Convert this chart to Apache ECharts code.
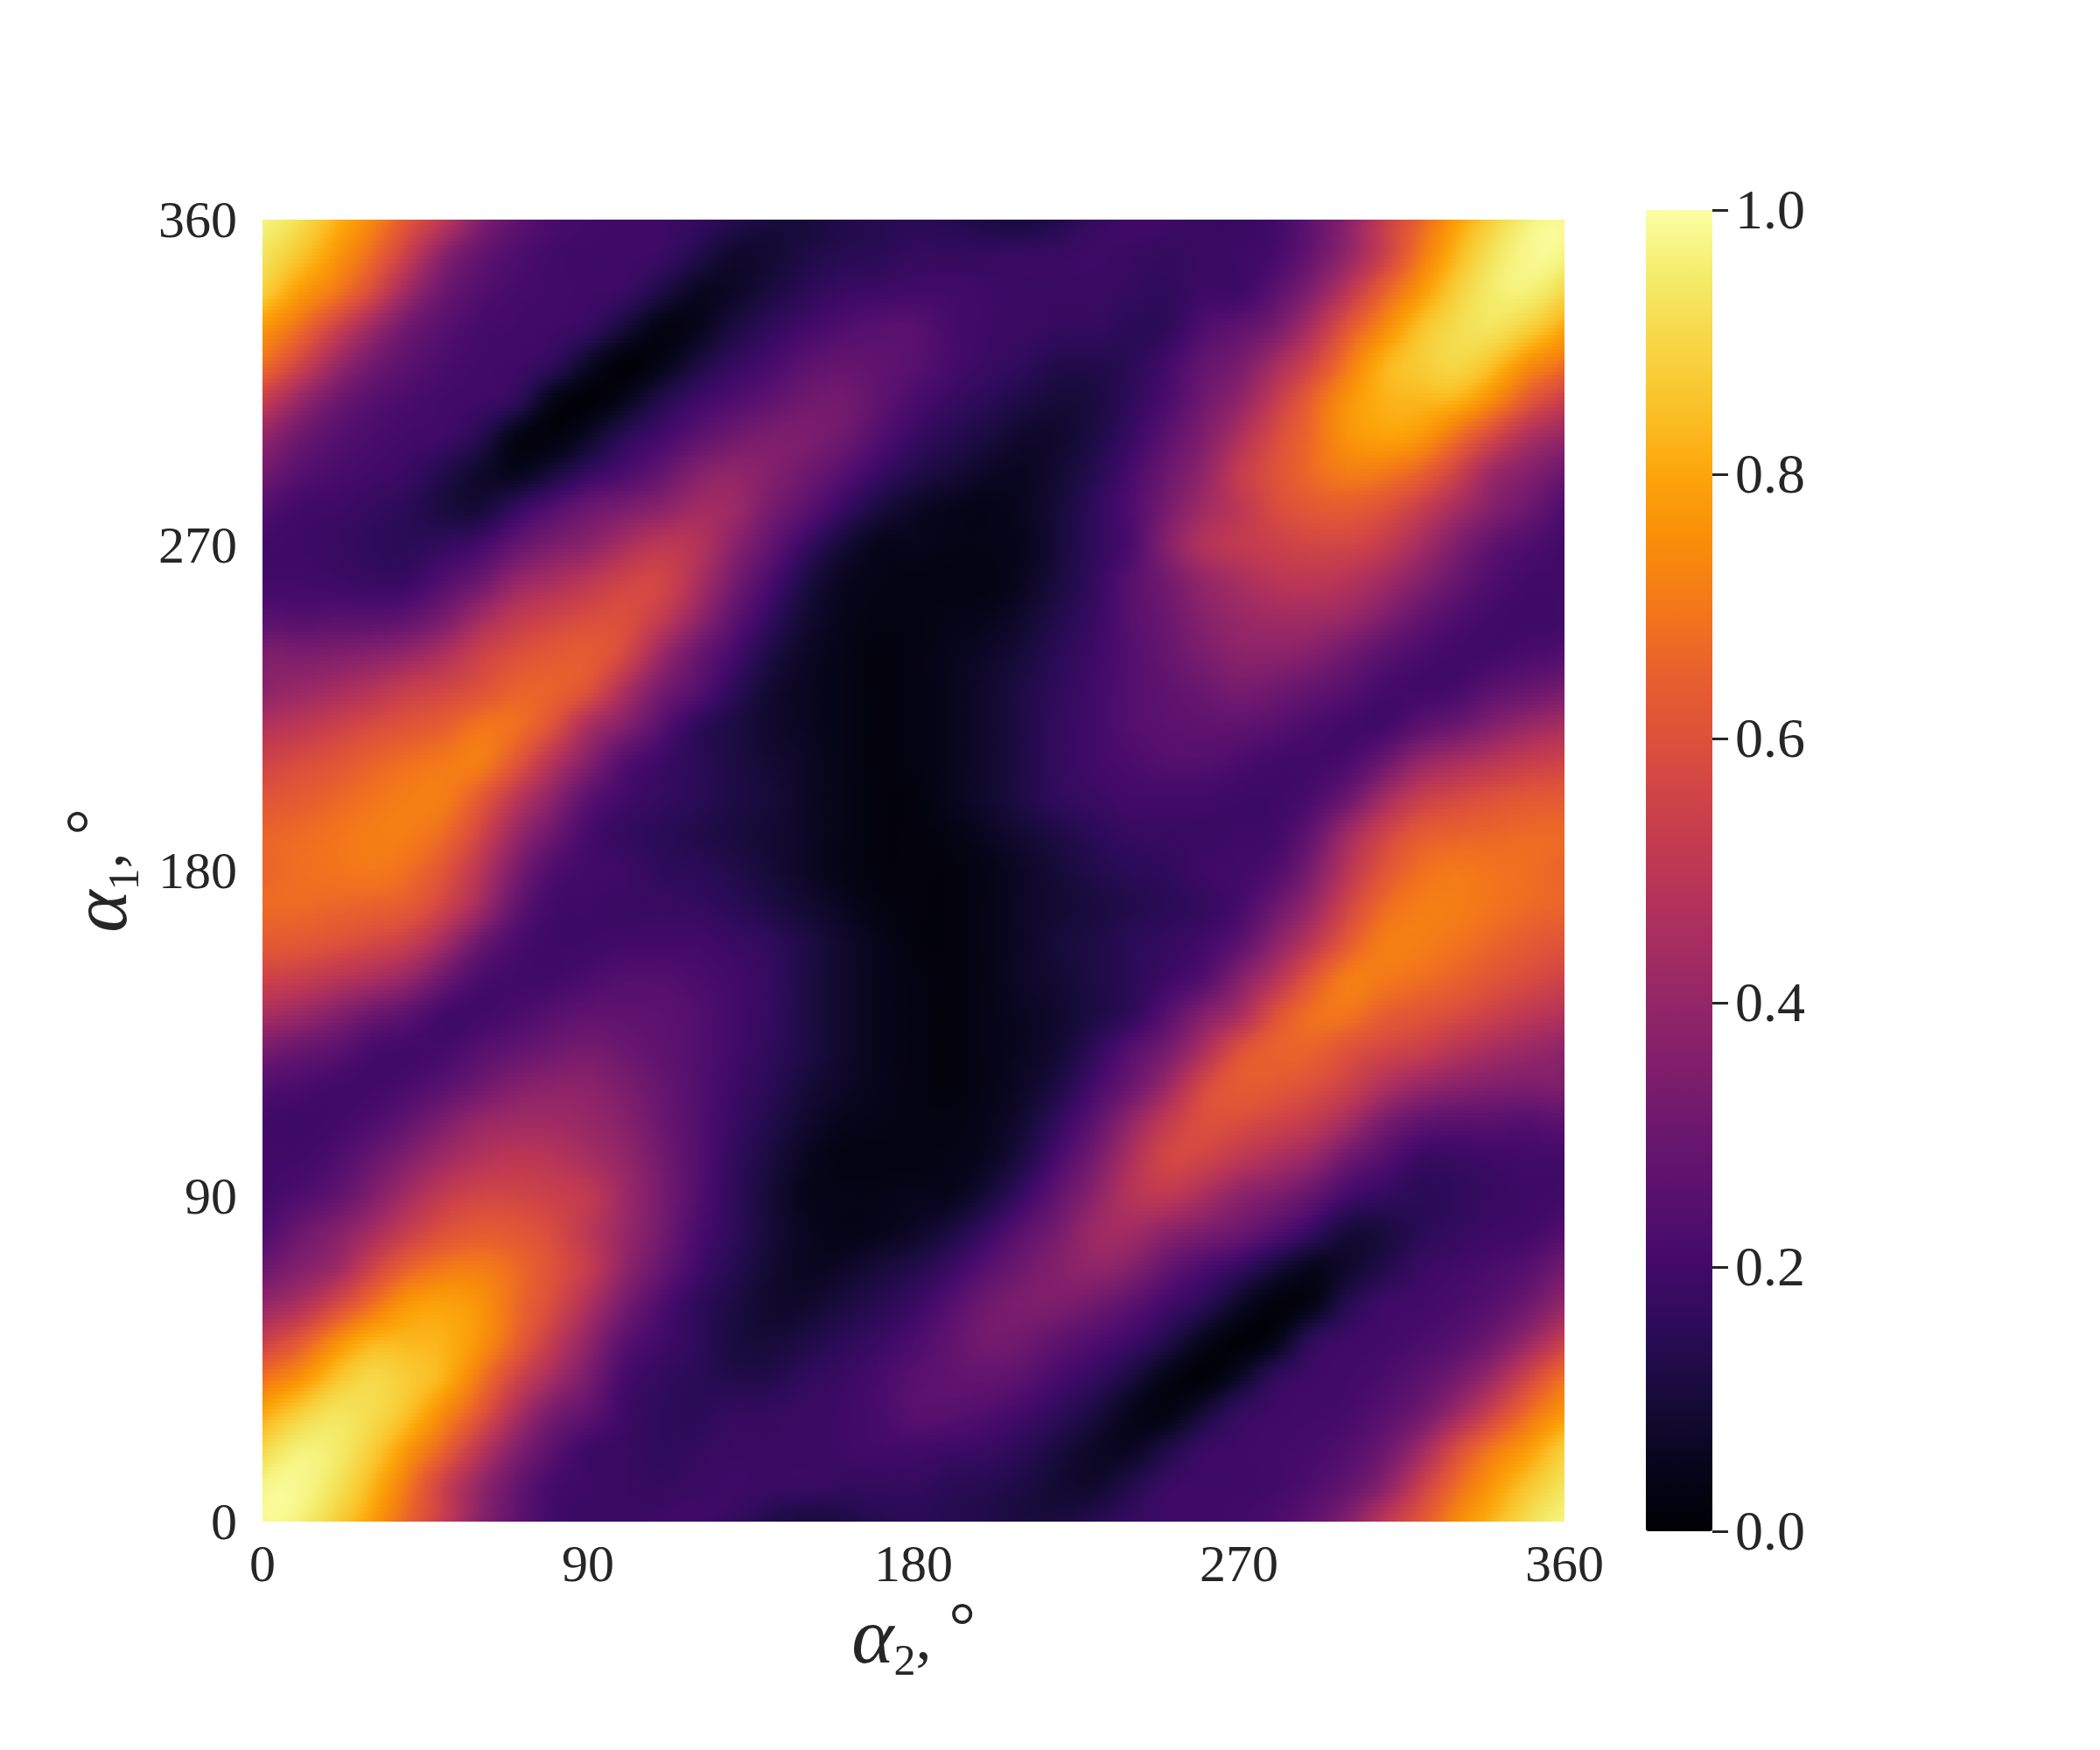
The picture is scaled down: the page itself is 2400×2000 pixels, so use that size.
<!DOCTYPE html>
<html><head><meta charset="utf-8">
<script src="https://cdn.jsdelivr.net/npm/echarts@6/dist/echarts.min.js"></script>
<style>html,body{margin:0;padding:0;background:#fff}#c{width:2400px;height:2000px}</style>
</head><body><div id="c"></div>
<script>
// Tick labels
const xTicks = [0, 90, 180, 270, 360];
const yTicks = [0, 90, 180, 270, 360];
const colorbarTicks = [0, 0.2, 0.4, 0.6, 0.8, 1.0];
// Sampling of the axes (degrees)
const alpha2 = Array.from({length: 37}, (_, i) => i * 10);
const alpha1Top = 360;
// Intensity in hundredths, one row per alpha1 from 360 (top) to 0 (bottom), one column per alpha2 from 0 to 360
const intensity = [
[97,92,83,74,62,50,36,27,22,20,19,19,17,14,11,11,13,14,15,14,12,11,13,17,19,19,18,18,20,27,37,52,65,78,88,96,98],
[93,86,77,67,53,37,28,23,20,19,19,18,13,8,9,12,14,15,17,17,17,18,18,19,18,17,18,19,21,29,40,54,70,83,93,98,97],
[88,78,70,58,42,30,24,21,20,19,18,12,6,7,11,15,18,19,20,20,19,18,18,18,17,16,19,19,26,36,50,65,77,88,95,96,90],
[77,68,55,42,31,25,21,20,19,17,10,3,5,11,16,20,23,25,25,21,19,18,17,17,15,16,23,27,33,46,62,74,85,91,93,88,80],
[68,56,42,32,26,22,20,19,16,7,1,4,11,17,21,26,28,27,25,21,18,16,13,13,15,20,28,33,44,56,70,82,87,90,85,75,68],
[53,41,31,25,22,20,19,16,4,1,5,13,19,23,27,31,32,27,22,18,15,12,10,11,16,22,31,39,52,65,76,82,83,82,74,62,53],
[40,31,25,22,20,19,14,4,2,7,15,20,26,31,34,34,31,24,18,14,11,8,8,12,18,26,35,46,58,67,76,79,77,68,57,46,40],
[32,25,22,20,18,13,8,5,10,17,22,28,36,39,36,31,25,18,13,10,7,6,9,14,21,30,39,52,60,67,71,70,65,55,42,36,30],
[24,20,19,17,15,11,10,17,24,30,34,38,43,42,33,26,18,11,7,5,4,6,10,16,23,33,43,50,58,62,63,60,53,44,36,30,23],
[20,19,18,16,15,17,20,28,34,38,45,50,48,38,28,18,10,5,5,4,4,5,10,16,22,36,47,51,54,56,56,52,44,35,27,23,20],
[20,20,19,18,18,24,30,40,45,50,55,56,46,33,22,12,6,4,3,3,3,6,11,17,25,32,40,45,49,50,48,43,36,29,23,20,20],
[25,24,25,25,27,33,43,51,55,58,59,52,40,27,17,9,5,3,3,4,5,8,13,18,25,30,37,41,43,43,41,35,28,23,20,19,20],
[34,34,35,37,40,46,54,59,62,63,57,42,30,21,12,7,4,2,3,5,7,10,15,19,24,29,34,38,38,36,31,26,22,20,20,22,24],
[38,41,44,48,53,56,60,65,65,60,46,33,25,16,9,6,4,2,3,5,8,12,16,20,24,27,30,33,31,28,25,21,20,21,26,29,33],
[47,50,54,58,61,64,69,68,60,45,36,25,16,12,8,6,4,2,3,5,8,12,17,20,24,26,27,27,25,22,20,20,26,30,36,41,45],
[55,58,61,65,68,70,71,62,48,36,24,19,15,12,9,7,4,2,3,5,8,12,17,20,22,24,24,22,20,20,22,30,40,45,49,53,55],
[61,63,66,69,71,71,63,50,38,26,20,17,15,12,10,7,4,2,2,5,8,12,16,18,20,20,20,19,19,22,30,43,53,57,60,62,63],
[66,67,69,71,71,67,56,41,30,21,17,15,13,11,9,7,4,2,2,3,6,9,12,15,17,18,18,19,20,28,43,55,63,65,66,67,67],
[66,68,69,70,68,61,49,34,23,20,19,16,15,13,10,7,4,2,2,2,4,7,10,13,15,16,19,20,23,34,49,61,68,70,69,68,66],
[67,67,66,65,63,55,43,28,20,19,18,18,17,15,12,9,6,3,2,2,4,7,9,11,13,15,17,21,30,41,56,67,71,71,69,67,66],
[63,62,60,57,53,43,30,22,19,19,20,20,20,18,16,12,8,5,2,2,4,7,10,12,15,17,20,26,38,50,63,71,71,69,66,63,61],
[55,53,49,45,40,30,22,20,20,22,24,24,22,20,17,12,8,5,3,2,4,7,9,12,15,19,24,36,48,62,71,70,68,65,61,58,55],
[45,41,36,30,26,20,20,22,25,27,27,26,24,20,17,12,8,5,3,2,4,6,8,12,16,25,36,45,60,68,69,64,61,58,54,50,47],
[33,29,26,21,20,21,25,28,31,33,30,27,24,20,16,12,8,5,3,2,4,6,9,16,25,33,46,60,65,65,60,56,53,48,44,41,38],
[24,22,20,20,22,26,31,36,38,38,34,29,24,19,15,10,7,5,3,2,4,7,12,21,30,42,57,63,62,59,54,46,40,37,35,34,34],
[20,19,20,23,28,35,41,43,43,41,37,30,24,18,13,8,5,4,3,3,5,9,17,27,40,52,59,58,55,51,43,33,27,25,25,24,25],
[20,20,23,29,36,43,48,50,49,45,40,32,24,17,11,6,3,3,3,4,6,12,22,33,46,56,55,50,45,40,30,24,18,18,19,20,20],
[20,23,27,35,44,52,56,56,54,51,42,33,24,16,10,5,4,4,5,5,10,18,28,38,48,50,45,38,34,28,20,17,15,16,18,19,20],
[23,30,36,44,53,60,63,62,58,50,41,32,22,16,10,6,4,5,7,11,18,26,33,42,43,38,34,30,24,17,10,11,15,17,19,20,24],
[30,36,42,55,65,70,71,67,60,52,39,29,20,14,9,6,7,10,13,18,25,31,36,39,36,28,22,17,10,5,8,13,18,20,22,25,32],
[40,46,57,68,77,79,76,67,58,46,33,23,16,12,8,8,11,14,18,24,31,34,34,31,26,20,15,7,2,4,14,19,20,22,25,31,40],
[53,62,74,82,83,82,76,65,52,39,26,20,16,11,10,12,15,18,22,27,32,31,27,23,19,13,5,1,4,16,19,20,22,25,31,41,53],
[68,75,85,90,87,82,70,56,44,33,21,17,15,13,13,16,18,21,25,27,28,26,21,17,11,4,1,7,16,19,20,22,26,32,42,56,68],
[80,88,93,91,85,74,62,46,33,27,19,16,15,17,17,18,19,21,25,25,23,20,16,11,5,3,10,17,19,20,21,25,31,42,55,68,77],
[90,96,95,88,77,65,50,36,26,19,18,16,17,18,18,18,19,20,20,19,18,15,11,7,6,12,18,19,20,21,24,30,42,58,70,78,88],
[97,98,93,83,70,54,40,29,21,19,18,17,18,19,18,18,17,17,17,15,14,12,9,8,13,18,19,19,20,23,28,37,53,67,77,86,93],
[98,96,88,78,65,52,37,27,20,18,18,19,19,17,13,11,12,14,15,14,13,11,11,14,17,19,19,20,22,27,36,50,62,74,83,92,97]
];
// Inferno colour map, evenly spaced from 0 to 1
const inferno = ['#000004','#07051b','#160b39','#2a0b57','#420a68','#57106e','#6a176e','#7f1e6c','#932667','#a82e5f','#bc3754','#cc4248','#dd513a','#e8602d','#f37819','#f98e09','#fca50a','#fac228','#f6d746','#f3ec6a','#fcffa4'];

const ink = '#262626';
const serif = '"Liberation Serif", serif';
const cellSize = 10;

const paletteRgb = inferno.map(h => [parseInt(h.slice(1,3),16), parseInt(h.slice(3,5),16), parseInt(h.slice(5,7),16)]);
function colourOf(v) {
  const t = Math.max(0, Math.min(1, v)) * (paletteRgb.length - 1);
  const k = Math.min(paletteRgb.length - 2, Math.floor(t));
  const f = t - k, a = paletteRgb[k], b = paletteRgb[k + 1];
  return 'rgb(' + [0,1,2].map(c => Math.round(a[c] + (b[c] - a[c]) * f)).join(',') + ')';
}
function node(i, j) { // i: alpha2 index, j: alpha1 index
  const n = alpha2.length - 1;
  const ii = i < 0 ? i + n : i > n ? i - n : i;
  const jj = j < 0 ? j + n : j > n ? j - n : j;
  return intensity[n - jj][ii] / 100;
}
function spline(a, b, c, d, t) {
  return 0.5 * (2*b + (c-a)*t + (2*a-5*b+4*c-d)*t*t + (3*b-a-3*c+d)*t*t*t);
}
function shade(i, j, u, v) { // smooth shading inside the cell between read values
  const col = [-1,0,1,2].map(dj => spline(node(i-1,j+dj), node(i,j+dj), node(i+1,j+dj), node(i+2,j+dj), u));
  return spline(col[0], col[1], col[2], col[3], v);
}
const strips = 10, stops = 5;
function renderCell(params, api) {
  const a2 = api.value(0), a1 = api.value(1);
  if (a2 >= 360 || a1 >= 360) return null;
  const i = a2 / cellSize, j = a1 / cellSize;
  const tl = api.coord([a2, a1 + cellSize]), br = api.coord([a2 + cellSize, a1]);
  const x0 = Math.round(tl[0]), x1 = Math.round(br[0]);
  const children = [];
  for (let s = 0; s < strips; s++) {
    const y0 = Math.round(tl[1] + (br[1] - tl[1]) * s / strips);
    const y1 = Math.round(tl[1] + (br[1] - tl[1]) * (s + 1) / strips);
    const v = 1 - (s + 0.5) / strips;
    const cs = [];
    for (let k = 0; k < stops; k++) {
      const u = k / (stops - 1);
      cs.push({offset: u, color: colourOf(shade(i, j, u, v))});
    }
    children.push({
      type: 'rect',
      shape: {x: x0, y: y0, width: x1 - x0 + (a2 + cellSize < 360 ? 1 : 0), height: y1 - y0 + (a1 > 0 || s < strips - 1 ? 1 : 0)},
      style: {fill: new echarts.graphic.LinearGradient(0, 0, 1, 0, cs)},
      silent: true
    });
  }
  return {type: 'group', children};
}
const points = [];
intensity.forEach((row, r) => row.forEach((val, c) => points.push([alpha2[c], alpha1Top - r * cellSize, val / 100])));

const titleRich = {
  a: {fontFamily: serif, fontStyle: 'italic', fontSize: 92, color: ink, lineHeight: 100, verticalAlign: 'middle'},
  s: {fontFamily: serif, fontSize: 50, color: ink, lineHeight: 60, verticalAlign: 'bottom'},
  c: {fontFamily: serif, fontSize: 72, color: ink, lineHeight: 100, verticalAlign: 'middle', padding: [0, 20, 0, 0]},
  d: {fontFamily: serif, fontSize: 76, color: ink, lineHeight: 100, verticalAlign: 'top'}
};
const tickRich = size => ({t: {fontFamily: serif, fontSize: size, color: ink, padding: [8, 0, 0, 0]}});
const chart = echarts.init(document.getElementById('c'), null, {renderer: 'canvas'});
chart.setOption({
  animation: false,
  backgroundColor: '#fff',
  grid: [
    {left: 300, top: 251, width: 1488, height: 1488},
    {left: 1957, top: 240, width: 18, height: 1510}
  ],
  xAxis: [
    {gridIndex: 0, type: 'value', min: 0, max: 360, interval: 90, axisLine: {show: false}, axisTick: {show: false}, splitLine: {show: false},
     axisLabel: {margin: 22, fontFamily: serif, fontSize: 60, color: ink, hideOverlap: false, formatter: v => xTicks.includes(v) ? String(v) : ''},
     name: '{a|α}{s|2}{c|,}{d|°}', nameLocation: 'middle', nameGap: 64, nameTextStyle: {rich: titleRich}},
    {gridIndex: 1, type: 'value', min: 0, max: 1, show: false}
  ],
  yAxis: [
    {gridIndex: 0, type: 'value', min: 0, max: 360, interval: 90, axisLine: {show: false}, axisTick: {show: false}, splitLine: {show: false},
     axisLabel: {margin: 29, hideOverlap: false, rich: tickRich(60), formatter: v => yTicks.includes(v) ? '{t|' + v + '}' : ''},
     name: '{a|α}{s|1}{c|,}{d|°}', nameLocation: 'middle', nameRotate: 90, nameGap: 104, nameTextStyle: {rich: titleRich}},
    {gridIndex: 1, type: 'value', position: 'right', min: 0, max: 1, interval: 0.2, axisLine: {show: false}, axisTick: {show: false},
     splitLine: {show: true, lineStyle: {color: ink, width: 3}},
     axisLabel: {margin: 8, hideOverlap: false, rich: tickRich(64), formatter: v => colorbarTicks.some(t => Math.abs(t - v) < 1e-6) ? '{t|' + v.toFixed(1) + '}' : ''}}
  ],
  visualMap: {
    type: 'continuous', min: 0, max: 1, calculable: false, seriesIndex: 0, dimension: 2,
    left: 1881, top: 240, itemWidth: 76, itemHeight: 1510, padding: 0, text: null, showLabel: false,
    inRange: {color: inferno}, orient: 'vertical'
  },
  series: [{
    type: 'custom', name: 'intensity', coordinateSystem: 'cartesian2d', xAxisIndex: 0, yAxisIndex: 0,
    data: points, encode: {x: 0, y: 1}, renderItem: renderCell, silent: true, progressive: 0, animation: false
  }]
});
</script></body></html>
